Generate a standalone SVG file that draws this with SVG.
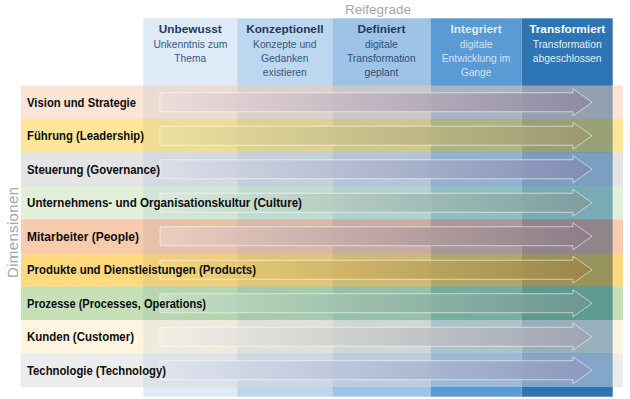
<svg xmlns="http://www.w3.org/2000/svg" width="630" height="399" viewBox="0 0 630 399">
<defs>
<style>
.ttl{font-family:"Liberation Sans",Arial,sans-serif;font-size:13.5px;fill:#a6a6a6}
.dim{font-family:"Liberation Sans",Arial,sans-serif;font-size:15px;fill:#a6a6a6}
.hd{font-family:"Liberation Sans",Arial,sans-serif;font-size:11.8px;font-weight:bold;text-anchor:middle}
.sb{font-family:"Liberation Sans",Arial,sans-serif;font-size:10.3px;text-anchor:middle}
.lbl{font-family:"Liberation Sans",Arial,sans-serif;font-size:12.2px;font-weight:bold;fill:#0d0d0d}
.row{fill-opacity:0.5}
.arr{fill-opacity:0.88;stroke:#ffffff;stroke-opacity:0.55;stroke-width:1}
</style>
<path id="arrow" d="M160,-9.5 H573 V-13.5 L592,0 L573,13.5 V9.5 H160 Z"/>
<linearGradient id="g0" gradientUnits="userSpaceOnUse" x1="160" y1="0" x2="592" y2="0"><stop offset="0" stop-color="#efdcdc"/><stop offset="1" stop-color="#8d88a0"/></linearGradient>
<linearGradient id="g1" gradientUnits="userSpaceOnUse" x1="160" y1="0" x2="592" y2="0"><stop offset="0" stop-color="#ece0a0"/><stop offset="1" stop-color="#9b9870"/></linearGradient>
<linearGradient id="g2" gradientUnits="userSpaceOnUse" x1="160" y1="0" x2="592" y2="0"><stop offset="0" stop-color="#dcdfe9"/><stop offset="1" stop-color="#808bb2"/></linearGradient>
<linearGradient id="g3" gradientUnits="userSpaceOnUse" x1="160" y1="0" x2="592" y2="0"><stop offset="0" stop-color="#d9ebd9"/><stop offset="1" stop-color="#7d9b9c"/></linearGradient>
<linearGradient id="g4" gradientUnits="userSpaceOnUse" x1="160" y1="0" x2="592" y2="0"><stop offset="0" stop-color="#ecd0c3"/><stop offset="1" stop-color="#8e7a88"/></linearGradient>
<linearGradient id="g5" gradientUnits="userSpaceOnUse" x1="160" y1="0" x2="592" y2="0"><stop offset="0" stop-color="#f4d77c"/><stop offset="1" stop-color="#9a8446"/></linearGradient>
<linearGradient id="g6" gradientUnits="userSpaceOnUse" x1="160" y1="0" x2="592" y2="0"><stop offset="0" stop-color="#c5e1c5"/><stop offset="1" stop-color="#6e9590"/></linearGradient>
<linearGradient id="g7" gradientUnits="userSpaceOnUse" x1="160" y1="0" x2="592" y2="0"><stop offset="0" stop-color="#f3efe6"/><stop offset="1" stop-color="#9ea4b0"/></linearGradient>
<linearGradient id="g8" gradientUnits="userSpaceOnUse" x1="160" y1="0" x2="592" y2="0"><stop offset="0" stop-color="#dfe4ee"/><stop offset="1" stop-color="#8b98bd"/></linearGradient>
</defs>
<rect width="630" height="399" fill="#ffffff"/>
<text class="ttl" x="378" y="13.5" text-anchor="middle" textLength="66" lengthAdjust="spacingAndGlyphs">Reifegrade</text>
<text class="dim" transform="translate(17.5,232.5) rotate(-90)" text-anchor="middle" textLength="91">Dimensionen</text>

<g id="col-unbewusst">
<rect x="143.3" y="18.3" width="94" height="378.4" fill="#deebf7"/>
<text class="hd" x="190.3" y="33.3" fill="#1f3864">Unbewusst</text>
<text class="sb" x="190.3" y="48" fill="#34578a">Unkenntnis zum</text>
<text class="sb" x="190.3" y="62" fill="#34578a">Thema</text>
</g>
<g id="col-konzeptionell">
<rect x="237.3" y="18.3" width="95" height="378.4" fill="#bdd7ee"/>
<text class="hd" x="284.8" y="33.3" fill="#1f3864">Konzeptionell</text>
<text class="sb" x="284.8" y="48" fill="#34578a">Konzepte und</text>
<text class="sb" x="284.8" y="62" fill="#34578a">Gedanken</text>
<text class="sb" x="284.8" y="76" fill="#34578a">existieren</text>
</g>
<g id="col-definiert">
<rect x="332.3" y="18.3" width="98.2" height="378.4" fill="#9dc3e6"/>
<text class="hd" x="381.4" y="33.3" fill="#1f3864">Definiert</text>
<text class="sb" x="381.4" y="48" fill="#2f4f80">digitale</text>
<text class="sb" x="381.4" y="62" fill="#2f4f80">Transformation</text>
<text class="sb" x="381.4" y="76" fill="#2f4f80">geplant</text>
</g>
<g id="col-integriert">
<rect x="430.5" y="18.3" width="91.2" height="378.4" fill="#5b9bd5"/>
<text class="hd" x="476.1" y="33.3" fill="#deebf7">Integriert</text>
<text class="sb" x="476.1" y="48" fill="#d2e3f4">digitale</text>
<text class="sb" x="476.1" y="62" fill="#d2e3f4">Entwicklung im</text>
<text class="sb" x="476.1" y="76" fill="#d2e3f4">Gange</text>
</g>
<g id="col-transformiert">
<rect x="521.7" y="18.3" width="91" height="378.4" fill="#2e75b6"/>
<text class="hd" x="567.2" y="33.3" fill="#ffffff">Transformiert</text>
<text class="sb" x="567.2" y="48" fill="#e2edf8">Transformation</text>
<text class="sb" x="567.2" y="62" fill="#e2edf8">abgeschlossen</text>
</g>

<g id="row-vision">
<rect class="row" x="21" y="85.5" width="602" height="33.5" fill="#f7cbad"/>
<use href="#arrow" class="arr" transform="translate(0,102.25)" fill="url(#g0)"/>
<text class="lbl" x="27" y="106.7" textLength="109" lengthAdjust="spacingAndGlyphs">Vision und Strategie</text>
</g>
<g id="row-fuehrung">
<rect class="row" x="21" y="119" width="602" height="33.5" fill="#ffcd33"/>
<use href="#arrow" class="arr" transform="translate(0,135.75)" fill="url(#g1)"/>
<text class="lbl" x="27" y="140.2" textLength="117" lengthAdjust="spacingAndGlyphs">Führung (Leadership)</text>
</g>
<g id="row-steuerung">
<rect class="row" x="21" y="152.5" width="602" height="33.5" fill="#c9c9c9"/>
<use href="#arrow" class="arr" transform="translate(0,169.25)" fill="url(#g2)"/>
<text class="lbl" x="27" y="173.7" textLength="133" lengthAdjust="spacingAndGlyphs">Steuerung (Governance)</text>
</g>
<g id="row-culture">
<rect class="row" x="21" y="186" width="602" height="33.5" fill="#c5dfb3"/>
<use href="#arrow" class="arr" transform="translate(0,202.75)" fill="url(#g3)"/>
<text class="lbl" x="27" y="207.2" textLength="275" lengthAdjust="spacingAndGlyphs">Unternehmens- und Organisationskultur (Culture)</text>
</g>
<g id="row-people">
<rect class="row" x="21" y="219.5" width="602" height="33.5" fill="#f1975b"/>
<use href="#arrow" class="arr" transform="translate(0,236.25)" fill="url(#g4)"/>
<text class="lbl" x="27" y="240.7" textLength="112" lengthAdjust="spacingAndGlyphs">Mitarbeiter (People)</text>
</g>
<g id="row-products">
<rect class="row" x="21" y="253" width="602" height="33.5" fill="#ffb300"/>
<use href="#arrow" class="arr" transform="translate(0,269.75)" fill="url(#g5)"/>
<text class="lbl" x="27" y="274.2" textLength="229" lengthAdjust="spacingAndGlyphs">Produkte und Dienstleistungen (Products)</text>
</g>
<g id="row-processes">
<rect class="row" x="21" y="286.5" width="602" height="33.5" fill="#8bc169"/>
<use href="#arrow" class="arr" transform="translate(0,303.25)" fill="url(#g6)"/>
<text class="lbl" x="27" y="307.7" textLength="179" lengthAdjust="spacingAndGlyphs">Prozesse (Processes, Operations)</text>
</g>
<g id="row-customer">
<rect class="row" x="21" y="320" width="602" height="33.5" fill="#ffebc1"/>
<use href="#arrow" class="arr" transform="translate(0,336.75)" fill="url(#g7)"/>
<text class="lbl" x="27" y="341.2" textLength="107" lengthAdjust="spacingAndGlyphs">Kunden (Customer)</text>
</g>
<g id="row-technology">
<rect class="row" x="21" y="353.5" width="602" height="33.5" fill="#d9d9d9"/>
<use href="#arrow" class="arr" transform="translate(0,370.25)" fill="url(#g8)"/>
<text class="lbl" x="27" y="374.7" textLength="139" lengthAdjust="spacingAndGlyphs">Technologie (Technology)</text>
</g>
<g id="connectors"/>
</svg>
